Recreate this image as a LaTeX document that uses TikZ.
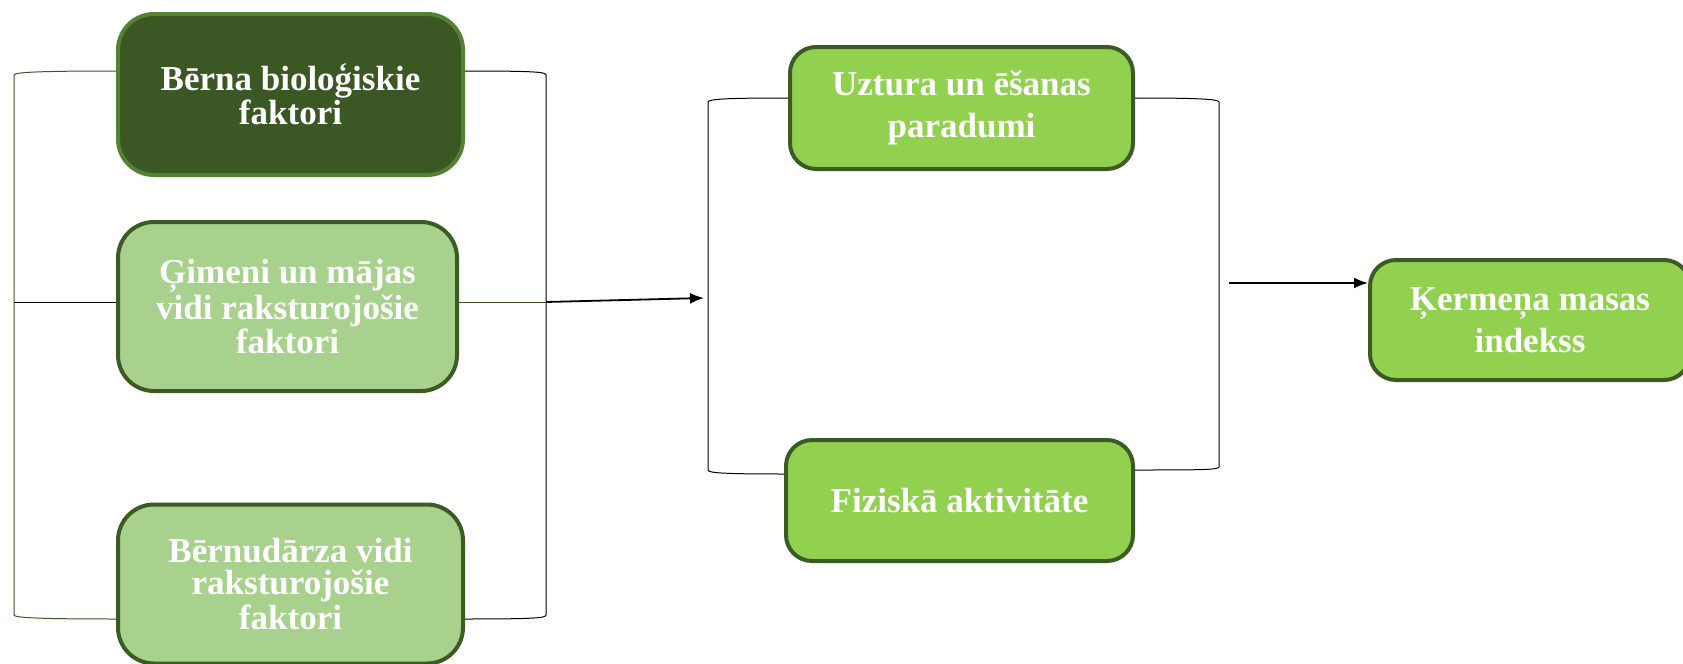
\documentclass[tikz,border=0pt]{standalone}
\usepackage{fontspec}
\setmainfont{Liberation Serif}
\usetikzlibrary{arrows.meta}
\definecolor{xanhdam}{HTML}{3A5724}
\definecolor{viensang}{HTML}{548235}
\definecolor{vientoi}{HTML}{3C5A24}
\definecolor{xanhnhat}{HTML}{A9D18E}
\definecolor{xanhla}{HTML}{92D050}
\begin{document}
\begin{tikzpicture}[x=.5pt,y=-.5pt,
            kbox/.style={rounded corners=18pt,line width=2pt,text=white,
                align=center,inner sep=0pt,
                font=\fontsize{17.5}{16}\selectfont\bfseries},
            kgoc/.style={kbox,fill=xanhdam,draw=viensang},
            knhat/.style={kbox,fill=xanhnhat,draw=vientoi},
            kla/.style={kbox,fill=xanhla,draw=vientoi,rounded corners=13pt,
                font=\fontsize{17.5}{21}\selectfont\bfseries}]
            \useasboundingbox (0,0) rectangle (1683,664);
            \path
            (290.5,94.5) node[kgoc,minimum width=172.5pt,minimum height=80.5pt] (A)
                {Bērna bioloģiskie\\faktori} % <<< cột 1
            (287.5,306.5) node[knhat,minimum width=169.5pt,minimum height=84.5pt] (B)
                {Ģimeni un mājas\\vidi raksturojošie\\faktori}
            (290.5,584) node[knhat,minimum width=172.5pt,minimum height=79.5pt] (C)
                {Bērnudārza vidi\\raksturojošie\\faktori}
            (961.5,108) node[kla,minimum width=171.5pt,minimum height=61pt] (D)
                {Uztura un ēšanas\\paradumi} % <<< cột 2
            (959.5,500.5) node[kla,minimum width=173.5pt,minimum height=60.5pt] (E)
                {Fiziskā aktivitāte}
            (1530,320) node[kla,minimum width=160pt,minimum height=60pt] (F)
                {Ķermeņa masas\\indekss}; % <<< cột 3
            \path
            (14,75) coordinate (g1) (14,615) coordinate (g2)
            (546,75) coordinate (g3) (546,615) coordinate (g4)
            (14,302) coordinate (g5) (546,302) coordinate (g6)
            (704,298) coordinate (g7)
            (708,102) coordinate (h1) (708,470) coordinate (h2)
            (1219,102) coordinate (h3) (1219,467) coordinate (h4)
            (1229,283) coordinate (h5);
            \begin{scope}[line width=.5pt]
                \draw[xanhdam] ([yshift=11.75pt]A.west) .. controls +(-70,0) and +(0,-3) .. (g1)
                    -- (g2) .. controls +(0,3) and +(-70,0) .. ([yshift=-17.5pt]C.west);
                \draw ([yshift=11.75pt]A.east) .. controls +(70,0) and +(0,-3) .. (g3)
                    -- (g4) .. controls +(0,3) and +(70,0) .. ([yshift=-17.5pt]C.east);
                \draw (g5) -- (g5 -| B.west);
                \draw[xanhdam] (B.east |- g6) -- (g6);
                \draw ([yshift=5pt]D.west) .. controls +(-60,0) and +(0,-3) .. (h1)
                    -- (h2) .. controls +(0,3) and +(-60,0) .. ([yshift=13.25pt]E.west);
                \draw ([yshift=5pt]D.east) .. controls +(60,0) and +(0,-3) .. (h3)
                    -- (h4) .. controls +(0,3) and +(60,0) .. ([yshift=15.25pt]E.east);
            \end{scope}
            \begin{scope}[-{Latex[length=7pt,width=5.5pt]},line width=.9pt]
                \draw (g6)--(g7);
                \draw (h5)--(h5 -| F.west);
            \end{scope}
        \end{tikzpicture}
\end{document}
